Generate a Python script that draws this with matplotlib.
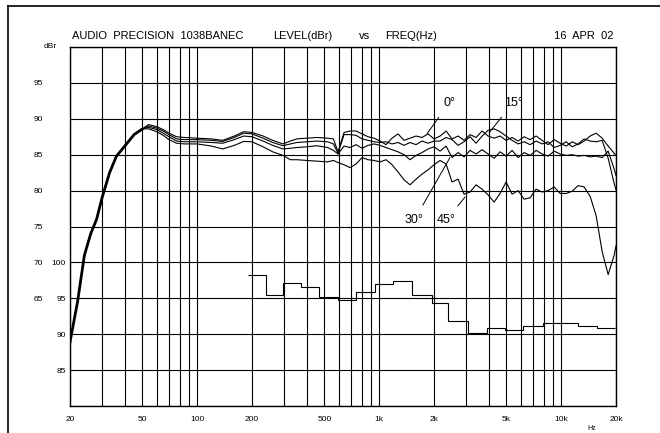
import matplotlib
matplotlib.use("Agg")
import matplotlib.pyplot as plt
from matplotlib.lines import Line2D

plt.rcParams['font.family'] = ['Liberation Sans', 'DejaVu Sans']

# shared low end (all four angles overlap here)
freq_lo = [20, 22, 24, 26, 28, 30, 33, 36, 40, 45, 50]
level_lo = [58.9, 64.5, 71.0, 74.0, 76.0, 79.0, 82.5, 84.8, 86.2, 87.8, 88.6]

freq_hi = [54, 60, 65, 70, 77, 85, 100, 120, 138, 160, 180, 200, 230, 260, 296, 325, 353,
           400, 455, 520, 560,
           594, 641, 691, 746, 805, 868, 937, 1011, 1090, 1176, 1269, 1369, 1477, 1594, 1720,
           1855, 2002, 2160, 2330, 2514, 2712, 2926, 3157, 3406, 3675, 3965, 4278, 4615, 4980,
           5372, 5796, 6254, 6747, 7280, 7854, 8474, 9143, 9864, 10643, 11482, 12388, 13366,
           14421, 15559, 16787, 18111, 19540, 20000]

deg0 = [89.2, 88.9, 88.5, 88.0, 87.5, 87.4, 87.3, 87.2, 87.0, 87.6, 88.2, 88.1, 87.6, 87.0, 86.5, 86.9, 87.2,
        87.3, 87.4, 87.3, 87.2,
        85.4, 88.1, 88.3, 88.3, 87.9, 87.5, 87.3, 86.9, 86.4, 87.3, 87.9, 87.0, 87.3, 87.6, 87.4,
        87.9, 87.2, 87.6, 88.3, 87.2, 87.6, 87.0, 87.8, 87.4, 88.3, 87.6, 87.3, 87.6, 87.0,
        87.4, 86.9, 87.5, 87.1, 87.6, 87.0, 86.4, 87.1, 86.6, 86.2, 86.8, 86.4, 86.9,
        87.6, 88.0, 87.3, 86.2, 85.2, 84.9]
deg15 = [89.0, 88.7, 88.3, 87.8, 87.2, 87.1, 87.1, 87.0, 86.85, 87.4, 88.0, 87.9, 87.3, 86.7, 86.25, 86.5, 86.7,
         86.8, 86.9, 86.8, 86.5,
         85.2, 87.8, 87.8, 87.7, 87.2, 87.0, 86.8, 86.7, 86.8, 86.5, 86.7, 86.3, 86.7, 86.4, 86.9,
         86.6, 86.9, 86.9, 87.4, 87.1, 86.3, 86.8, 87.5, 86.6, 87.6, 88.4, 88.6, 88.2, 87.6,
         87.0, 86.5, 86.8, 86.4, 86.9, 86.5, 86.8, 86.0, 86.3, 86.8, 86.1, 86.5, 87.2,
         86.9, 86.8, 87.0, 84.5, 81.0, 80.1]
deg30 = [88.8, 88.5, 88.0, 87.5, 86.9, 86.8, 86.8, 86.7, 86.6, 87.1, 87.6, 87.5, 86.9, 86.3, 85.8, 85.9, 86.0,
         86.1, 86.25, 86.0, 85.6,
         85.1, 86.2, 86.0, 86.4, 85.9, 86.3, 86.5, 86.3, 86.0, 85.7, 85.4, 85.0, 84.3, 84.9, 85.3,
         85.8, 86.1, 85.5, 86.2, 84.6, 85.3, 84.7, 85.6, 85.1, 85.7, 85.1, 84.5, 85.4, 84.8,
         85.6, 84.6, 85.3, 84.9, 85.6, 85.1, 84.8, 85.5, 85.1, 84.9, 85.0, 84.8, 84.9,
         84.7, 84.8, 84.6, 85.5, 83.0, 82.1]
deg45 = [88.6, 88.2, 87.7, 87.1, 86.6, 86.5, 86.5, 86.2, 85.8, 86.3, 86.85, 86.8, 86.1, 85.4, 84.9, 84.3, 84.3,
         84.2, 84.1, 84.0, 84.2,
         83.9, 83.6, 83.2, 83.7, 84.6, 84.3, 84.2, 84.0, 84.3, 83.6, 82.6, 81.5, 80.8, 81.6, 82.3,
         82.9, 83.6, 84.2, 83.7, 81.2, 81.6, 79.5, 79.8, 80.8, 80.2, 79.4, 78.4, 79.6, 81.2,
         79.5, 80.0, 78.8, 79.0, 80.2, 79.8, 80.0, 80.5, 79.6, 79.6, 79.9, 80.7, 80.5,
         79.2, 76.5, 71.5, 68.3, 71.0, 72.3]

# 1/3 octave stepped trace, read on the inner scale (85..100)
band_edges = [190, 238, 297, 370, 469, 596, 746, 948, 1195, 1508, 1942, 2397, 3087, 3927,
              4910, 6143, 7913, 12416, 15668, 19750]
band_level = [98.3, 95.4, 97.1, 96.6, 95.2, 94.8, 95.9, 97.0, 97.4, 95.4, 94.3, 91.9, 90.2,
              90.9, 90.6, 91.1, 91.5, 91.2, 90.8]

grid_freqs = [20, 30, 40, 50, 60, 70, 80, 90, 100, 200, 300, 400, 500, 600, 700, 800, 900,
              1000, 2000, 3000, 4000, 5000, 6000, 7000, 8000, 9000, 10000, 20000]
xlabels = {20: '20', 50: '50', 100: '100', 200: '200', 500: '500', 1000: '1k', 2000: '2k',
           5000: '5k', 10000: '10k', 20000: '20k'}
outer_ticks = [65, 70, 75, 80, 85, 90, 95]
inner_ticks = [85, 90, 95, 100]

W, H = 660, 433
fig = plt.figure(figsize=(W / 100, H / 100), dpi=100)
ax = fig.add_axes([70 / W, (H - 406) / H, 546 / W, 359 / H])
ax.set_xscale('log')
ax2 = ax.twinx()

ax.set_xlim(20, 20000)
ax.set_ylim(50, 100)
ax.xaxis.set_major_locator(matplotlib.ticker.FixedLocator(grid_freqs))
ax.xaxis.set_major_formatter(matplotlib.ticker.FixedFormatter([xlabels.get(f, '') for f in grid_freqs]))
ax.xaxis.set_minor_locator(matplotlib.ticker.NullLocator())
ax.set_yticks(range(50, 101, 5))
ax.set_yticklabels([str(v) if v in outer_ticks else '' for v in range(50, 101, 5)])
ax.tick_params(axis='x', length=0, pad=7, labelsize=6)
ax.tick_params(axis='y', length=0, pad=19.5, labelsize=6)
ax.grid(True, which='major', color='black', lw=0.8)
for s in ax.spines.values():
    s.set_linewidth(1.0)

lw = 0.8
for curve in (deg0, deg15, deg30, deg45):
    ax.plot(freq_lo + freq_hi, level_lo + curve, color='black', lw=lw, zorder=3)
ax.plot(freq_lo, level_lo, color='black', lw=2.0, zorder=3)

ax2.set_ylim(80, 130)
ax2.stairs(band_level, band_edges, color='black', lw=lw, baseline=None)
ax2.set_yticks(inner_ticks)
ax2.yaxis.set_ticks_position('left')
ax2.tick_params(axis='y', length=0, pad=3, labelsize=6)
for s in ax2.spines.values():
    s.set_visible(False)

ax.text(-0.024, 1.0, 'dBr', transform=ax.transAxes, ha='right', va='center', fontsize=6)

# angle labels with leader lines
kw = dict(fontsize=9, ha='center', va='center')
ax.annotate('0°', xy=(1830, 87.9), xytext=(2420, 92.2), **kw,
            arrowprops=dict(arrowstyle='-', lw=0.7, shrinkA=5, shrinkB=0))
ax.annotate('15°', xy=(4012, 88.05), xytext=(5434, 92.2), **kw,
            arrowprops=dict(arrowstyle='-', lw=0.7, shrinkA=5, shrinkB=0))
ax.annotate('30°', xy=(2448, 84.6), xytext=(1560, 75.9), **kw,
            arrowprops=dict(arrowstyle='-', lw=0.7, shrinkA=5, shrinkB=0))
ax.annotate('45°', xy=(2960, 79.1), xytext=(2340, 75.9), **kw,
            arrowprops=dict(arrowstyle='-', lw=0.7, shrinkA=5, shrinkB=0))

# header line
ty = 1 - 36 / H
fs = 8
fig.text(72 / W, ty, 'AUDIO  PRECISION  1038BANEC', fontsize=fs, va='center')
fig.text(273 / W, ty, 'LEVEL(dBr)', fontsize=fs, va='center')
fig.text(359 / W, ty, 'vs', fontsize=fs, va='center')
fig.text(385 / W, ty, 'FREQ(Hz)', fontsize=fs, va='center')
fig.text(614 / W, ty, '16  APR  02', fontsize=fs, va='center', ha='right')
fig.text(592 / W, 1 / H, 'Hz', fontsize=5, va='bottom', ha='center')

# page frame (clipped at right and bottom)
fig.add_artist(Line2D([8 / W, 8 / W], [0, 1 - 6 / H], transform=fig.transFigure, color='black', lw=1.2))
fig.add_artist(Line2D([8 / W, 1], [1 - 6 / H, 1 - 6 / H], transform=fig.transFigure, color='black', lw=1.2))

fig.savefig('out.png', dpi=100)
